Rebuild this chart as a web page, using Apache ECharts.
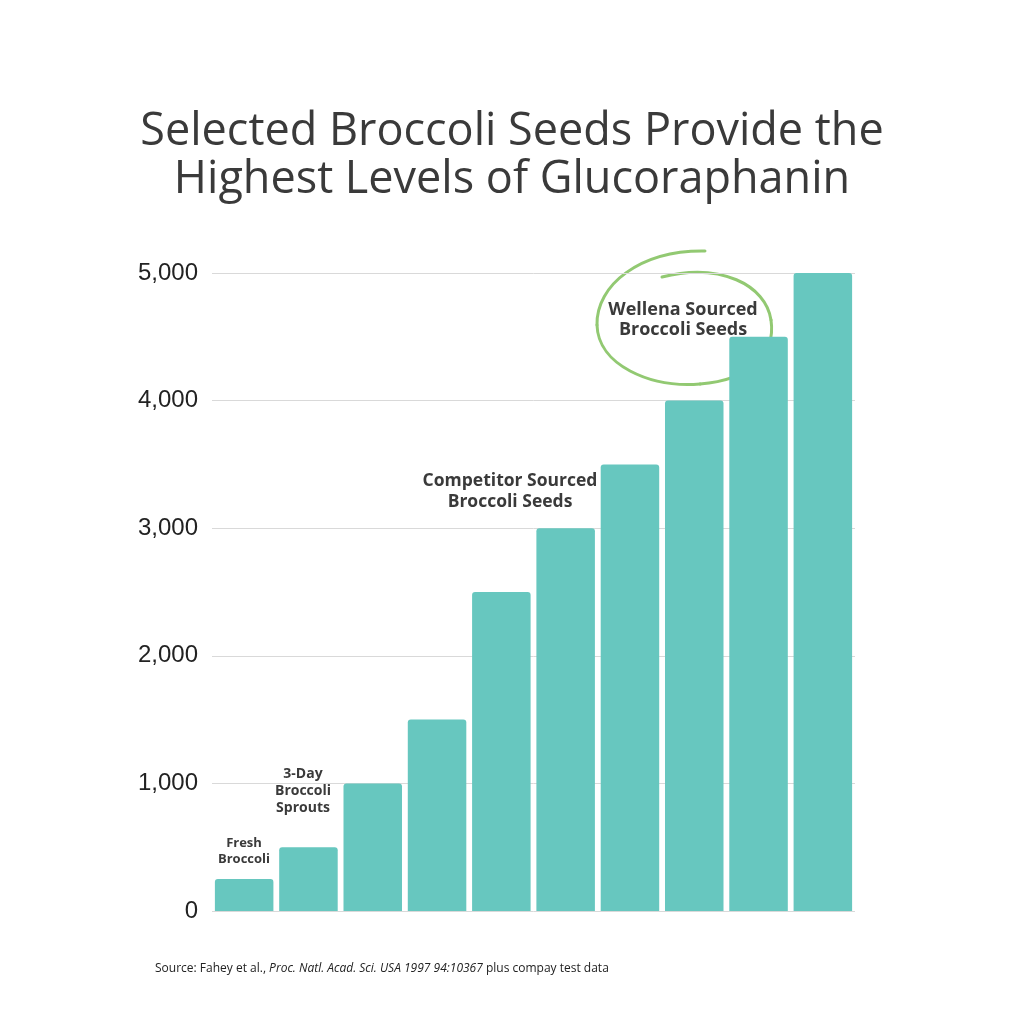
<!DOCTYPE html>
<html><head><meta charset="utf-8">
<script src="https://cdn.jsdelivr.net/npm/echarts@6/dist/echarts.min.js"></script>
<style>html,body{margin:0;padding:0;background:#fff}#c{width:1024px;height:1024px}</style>
</head><body><div id="c"></div>
<script>
const categories = ['1','2','3','4','5','6','7','8','9','10'];
const values = [250, 500, 1000, 1500, 2500, 3000, 3500, 4000, 4500, 5000];
const yTicks = [0, 1000, 2000, 3000, 4000, 5000];
const titleLines = ['Selected Broccoli Seeds Provide the', 'Highest Levels of Glucoraphanin'];

const chart = echarts.init(document.getElementById('c'));
const F = '"Open Sans", sans-serif';
const ring = { stroke: '#92c972', lineWidth: 3, lineCap: 'round', fill: null };
chart.setOption({
  animation: false,
  backgroundColor: '#fff',
  title: {
    text: titleLines.join('\n'),
    left: 'center', top: 103,
    textStyle: { fontFamily: F, fontSize: 45, fontWeight: 'normal', color: '#3a3a3a', lineHeight: 48 }
  },
  grid: { left: 212, right: 169, top: 273, bottom: 113 },
  xAxis: {
    type: 'category', data: categories,
    axisLine: { show: false }, axisTick: { show: false }, axisLabel: { show: false }
  },
  yAxis: {
    type: 'value', min: yTicks[0], max: yTicks[yTicks.length - 1], interval: 1000,
    axisLine: { show: false }, axisTick: { show: false },
    axisLabel: { margin: 14, fontFamily: '"Liberation Sans", Arial, sans-serif', fontSize: 24, color: '#222',
      formatter: v => v.toLocaleString('en-US') },
    splitLine: { lineStyle: { color: '#d9d9d9', width: 1 } }
  },
  series: [{
    type: 'bar', data: values, barCategoryGap: '9%',
    itemStyle: { color: '#67c7bf', borderRadius: [3, 3, 0, 0] }
  }],
  graphic: [
    { type: 'text', x: 244, y: 835, style: { text: 'Fresh\nBroccoli', align: 'center',
      font: 'bold 13px "Open Sans", sans-serif', fill: '#3a3a3a', lineHeight: 16 } },
    { type: 'text', x: 303, y: 766, style: { text: '3-Day\nBroccoli\nSprouts', align: 'center',
      font: 'bold 14px "Open Sans", sans-serif', fill: '#3a3a3a', lineHeight: 17 } },
    { type: 'text', x: 510, y: 471, style: { text: 'Competitor Sourced\nBroccoli Seeds', align: 'center',
      font: 'bold 17.5px "Open Sans", sans-serif', fill: '#3a3a3a', lineHeight: 21 } },
    { type: 'text', x: 683, y: 300, style: { text: 'Wellena Sourced\nBroccoli Seeds', align: 'center',
      font: 'bold 18px "Open Sans", sans-serif', fill: '#3a3a3a', lineHeight: 20 } },
    { type: 'bezierCurve', shape: { x1: 705, y1: 251, cpx1: 640, cpy1: 250, cpx2: 596, cpy2: 285, x2: 597, y2: 325 }, style: ring },
    { type: 'bezierCurve', shape: { x1: 597, y1: 325, cpx1: 598, cpy1: 365, cpx2: 650, cpy2: 388, x2: 700, y2: 384 }, style: ring },
    { type: 'bezierCurve', shape: { x1: 700, y1: 384, cpx1: 750, cpy1: 380, cpx2: 776, cpy2: 355, x2: 771, y2: 320 }, style: ring },
    { type: 'bezierCurve', shape: { x1: 771, y1: 320, cpx1: 766, cpy1: 285, cpx2: 720, cpy2: 262, x2: 662, y2: 277 }, style: ring },
    { type: 'text', x: 155, y: 963, style: {
      text: '{n|Source: Fahey et al., }{i|Proc. Natl. Acad. Sci. USA 1997 94:10367}{n| plus compay test data}',
      rich: { n: { fontFamily: F, fontSize: 12, fill: '#222' },
              i: { fontFamily: F, fontSize: 12, fontStyle: 'italic', fill: '#222' } } } }
  ]
});
</script></body></html>
